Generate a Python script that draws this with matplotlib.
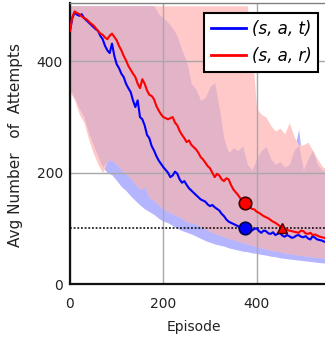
import numpy as np
import matplotlib
matplotlib.use("Agg")
import matplotlib.pyplot as plt

# ---------------- data ----------------
ep_line = list(range(0, 551, 5))
blue_mean = [455, 478, 488, 484, 482, 485, 478, 474, 470, 466, 462, 458, 455, 446, 440, 428,
             420, 415, 432, 410, 395, 388, 378, 372, 360, 352, 345, 330, 318, 330, 300, 296,
             285, 268, 262, 248, 240, 230, 222, 216, 210, 205, 200, 192, 195, 202, 198, 188,
             182, 185, 178, 172, 168, 164, 160, 156, 152, 150, 148, 143, 140, 142, 138, 135,
             132, 126, 122, 116, 112, 110, 108, 106, 104, 101, 100, 100, 98, 101, 96, 99,
             100, 95, 92, 96, 95, 91, 90, 93, 88, 90, 92, 87, 85, 88, 86, 83,
             84, 87, 88, 85, 84, 86, 82, 80, 86, 83, 80, 79, 78, 76, 75]
red_mean = [455, 480, 490, 487, 485, 481, 478, 476, 472, 468, 465, 460, 455, 450, 448, 443,
            440, 446, 450, 444, 438, 428, 420, 410, 402, 392, 385, 378, 372, 360, 352, 368,
            360, 348, 340, 338, 332, 320, 312, 305, 300, 298, 296, 298, 300, 290, 285, 275,
            268, 262, 255, 258, 250, 246, 242, 236, 228, 224, 218, 212, 208, 200, 192, 198,
            195, 188, 185, 190, 188, 178, 170, 165, 160, 154, 148, 145, 142, 138, 135, 134,
            130, 128, 125, 122, 120, 118, 115, 112, 110, 107, 104, 102, 100, 97, 96, 95,
            94, 93, 92, 96, 95, 91, 90, 92, 88, 89, 87, 85, 84, 83, 82]

ep_band = list(range(0, 551, 10))
blue_lower = [350, 335, 315, 300, 272, 250, 229, 210, 200, 196, 186, 175, 168, 158, 150, 142,
              135, 130, 125, 118, 113, 110, 105, 100, 96, 93, 90, 86, 82, 78, 75, 72,
              70, 68, 65, 63, 61, 59, 58, 56, 55, 53, 52, 50, 49, 47, 46, 45,
              44, 43, 42, 41, 40, 39, 38, 38]
blue_upper = [500, 500, 500, 500, 500, 500, 500, 500, 500, 500, 500, 500, 500, 500, 500, 500,
              500, 500, 500, 485, 478, 470, 460, 445, 420, 400, 360, 350, 330, 335, 355, 362,
              315, 260, 236, 245, 240, 248, 215, 205, 225, 240, 247, 225, 215, 220, 210, 215,
              240, 278, 205, 225, 240, 215, 205, 200]
red_lower = [345, 330, 305, 290, 260, 235, 215, 200, 222, 222, 215, 205, 198, 190, 180, 170,
             175, 155, 150, 142, 135, 130, 126, 122, 118, 112, 110, 108, 103, 99, 95, 91,
             88, 85, 82, 80, 77, 75, 72, 70, 67, 65, 63, 61, 59, 58, 56, 55,
             53, 52, 51, 50, 49, 48, 47, 47]
red_upper = [500, 500, 500, 500, 500, 500, 500, 500, 500, 500, 500, 500, 500, 500, 500, 500,
             500, 500, 500, 500, 500, 500, 500, 500, 500, 500, 500, 500, 500, 500, 500, 500,
             500, 500, 500, 500, 500, 500, 500, 420, 315, 305, 300, 285, 275, 280, 270, 290,
             265, 250, 250, 255, 240, 225, 212, 205]

threshold = 100
marker_ep = [375, 375, 455]
marker_val = [145, 100, 100]

labels = ["(s, a, t)", "(s, a, r)"]
xticks = [0, 200, 400]
yticks = [0, 200, 400]

# ---------------- figure ----------------
W, H = 325, 340
fig = plt.figure(figsize=(W / 100, H / 100), dpi=100)
ax = fig.add_axes([70 / W, 56 / H, 280 / W, 281 / H])
ax.set_xlim(0, 600)
ax.set_ylim(0, 505)

xb = np.array(ep_band)
bl, bu = np.array(blue_lower), np.array(blue_upper)
rl, ru = np.array(red_lower), np.array(red_upper)

ax.fill_between(xb, bl, bu, color="#b4b4ff", lw=0, zorder=1)
ax.fill_between(xb, rl, ru, color="#ffc9c9", lw=0, zorder=1.1)
lo = np.maximum(bl, rl)
hi = np.minimum(bu, ru)
ax.fill_between(xb, lo, hi, where=hi > lo, interpolate=True, color="#e3b3c8", lw=0, zorder=1.2)

ax.set_axisbelow("line")
ax.grid(True, color="#a8a8a8", lw=1.0)

ax.axhline(threshold, color="black", ls=(0, (1.2, 1.2)), lw=1.1, zorder=2.5)

l1, = ax.plot(ep_line, blue_mean, color="#0000ff", lw=1.5, zorder=3)
l2, = ax.plot(ep_line, red_mean, color="#ff0000", lw=1.5, zorder=3.1)

ax.plot(marker_ep[0], marker_val[0], "o", ms=9, mfc="#ff0000", mec="#400000", mew=1.2, zorder=4)
ax.plot(marker_ep[1], marker_val[1], "o", ms=9, mfc="#0000ff", mec="#000040", mew=1.2, zorder=4)
ax.plot(marker_ep[2], marker_val[2], "^", ms=7, mfc="#ff0000", mec="#400000", mew=1.0, zorder=4)

ax.set_xticks(xticks)
ax.set_yticks(yticks)
ax.tick_params(length=0, labelsize=10, colors="#222222")
ax.tick_params(axis="x", pad=9)
ax.tick_params(axis="y", pad=5)
for s in ["left", "bottom"]:
    ax.spines[s].set_linewidth(1.6)
    ax.spines[s].set_color("#111111")
ax.spines["top"].set_linewidth(1.0)
ax.spines["top"].set_color("#808080")
ax.spines["right"].set_visible(False)

ax.set_xlabel("Episode", fontsize=10, color="#222222")
ax.xaxis.set_label_coords((194 - 70) / 280, -(36) / 281)
ax.set_ylabel("Avg Number   of  Attempts", fontsize=11, color="#222222")
ax.yaxis.set_label_coords(-(47) / 280, (284 - 145) / 281)

leg = ax.legend([l1, l2], labels, loc="upper left",
                bbox_to_anchor=((204 - 70) / 280, (284 - 13) / 281),
                borderaxespad=0, fancybox=False, framealpha=1, edgecolor="black",
                prop={"size": 12, "style": "italic"}, handlelength=2.1,
                handletextpad=0.35, labelspacing=0.55, borderpad=0.4)
leg.get_frame().set_linewidth(1.5)
leg.set_zorder(10)
for line in leg.get_lines():
    line.set_linewidth(2)

fig.savefig("out.png", dpi=100)
